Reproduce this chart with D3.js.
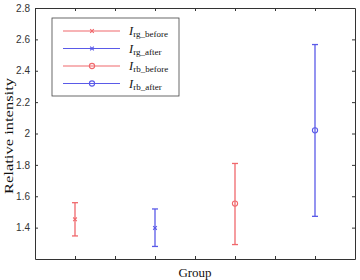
<!DOCTYPE html>
<html>
<head>
<meta charset="utf-8">
<script src="https://cdn.jsdelivr.net/npm/d3@7"></script>
<style>
body { margin: 0; background: #fff; }
svg text { font-family: "Liberation Serif", serif; }
</style>
</head>
<body>
<svg id="chart"></svg>
<script>
// data
var groups = [1, 3, 5, 7]
var means = [1.453, 1.398, 1.553, 2.020]
var upper = [1.559, 1.519, 1.809, 2.567]
var lower = [1.347, 1.280, 1.292, 1.472]
var seriesColors = ["#f0686c", "#5a5ae8", "#f0686c", "#5a5ae8"]
var seriesMarks = ["x", "x", "o", "o"]
var seriesNames = ["rg_before", "rg_after", "rb_before", "rb_after"]
var yTicks = [1.4, 1.6, 1.8, 2, 2.2, 2.4, 2.6, 2.8]
var xTicks = [1, 2, 3, 4, 5, 6, 7]

var margin = {top: 8, right: 5, bottom: 21, left: 35},
    width = 360 - margin.left - margin.right,
    height = 280 - margin.top - margin.bottom;

var svg = d3.select("#chart")
    .attr("width", 360)
    .attr("height", 280)
  .append("g")
    .attr("transform", "translate(" + margin.left + "," + margin.top + ")");

var x = d3.scaleLinear().domain([0, 8]).range([0, width]);
var y = d3.scaleLinear().domain([1.2, 2.8]).range([height, 0]);

// axes with inward ticks, mirrored on top/right
function styleAxis(g) {
  g.select(".domain").attr("stroke", "#333").attr("stroke-width", 1);
  g.selectAll(".tick line").attr("stroke", "#333");
  g.selectAll(".tick text").attr("fill", "#333").style("font-family", "Liberation Sans, Arial, sans-serif").attr("font-size", 10);
}
svg.append("g")
  .attr("transform", "translate(0," + height + ")")
  .call(d3.axisBottom(x).tickValues(xTicks).tickSize(-3).tickSizeOuter(0).tickFormat(""))
  .call(styleAxis);
svg.append("g")
  .call(d3.axisTop(x).tickValues(xTicks).tickSize(-3).tickSizeOuter(0).tickFormat(""))
  .call(styleAxis);
svg.append("g")
  .call(d3.axisLeft(y).tickValues(yTicks).tickSize(-3).tickSizeOuter(0).tickPadding(5).tickFormat(d3.format("")))
  .call(styleAxis);
svg.append("g")
  .attr("transform", "translate(" + width + ",0)")
  .call(d3.axisRight(y).tickValues(yTicks).tickSize(-3).tickSizeOuter(0).tickFormat(""))
  .call(styleAxis);

// error bars
var capW = 3;
var bars = svg.selectAll(".eb")
  .data(groups.map(function(g, i) { return {g: g, m: means[i], hi: upper[i], lo: lower[i], c: seriesColors[i], mk: seriesMarks[i]}; }))
  .enter().append("g").attr("class", "eb");
bars.append("line")
  .attr("x1", function(d) { return x(d.g); }).attr("x2", function(d) { return x(d.g); })
  .attr("y1", function(d) { return y(d.hi); }).attr("y2", function(d) { return y(d.lo); })
  .attr("stroke", function(d) { return d.c; }).attr("stroke-width", 1.3);
bars.append("line")
  .attr("x1", function(d) { return x(d.g) - capW; }).attr("x2", function(d) { return x(d.g) + capW; })
  .attr("y1", function(d) { return y(d.hi); }).attr("y2", function(d) { return y(d.hi); })
  .attr("stroke", function(d) { return d.c; }).attr("stroke-width", 1.3);
bars.append("line")
  .attr("x1", function(d) { return x(d.g) - capW; }).attr("x2", function(d) { return x(d.g) + capW; })
  .attr("y1", function(d) { return y(d.lo); }).attr("y2", function(d) { return y(d.lo); })
  .attr("stroke", function(d) { return d.c; }).attr("stroke-width", 1.3);

function drawMarker(sel, mk, cx, cy, c) {
  if (mk == "o") {
    sel.append("circle").attr("cx", cx).attr("cy", cy).attr("r", 2.6)
      .attr("fill", "none").attr("stroke", c).attr("stroke-width", 1.1);
  } else {
    sel.append("path")
      .attr("d", "M" + (cx - 1.8) + "," + (cy - 1.8) + "L" + (cx + 1.8) + "," + (cy + 1.8) +
                 "M" + (cx - 1.8) + "," + (cy + 1.8) + "L" + (cx + 1.8) + "," + (cy - 1.8))
      .attr("stroke", c).attr("stroke-width", 1.2);
  }
}
bars.each(function(d) { drawMarker(d3.select(this), d.mk, x(d.g), y(d.m), d.c); });

// legend
var legend = svg.append("g").attr("transform", "translate(" + (52 - margin.left) + "," + (18 - margin.top) + ")");
legend.append("rect").attr("x", 0).attr("y", 0).attr("width", 127).attr("height", 78)
  .attr("fill", "#fff").attr("stroke", "#444").attr("stroke-width", 0.8);
seriesNames.forEach(function(name, i) {
  var ly = 13 + i * 17.5;
  legend.append("line").attr("x1", 11).attr("x2", 68).attr("y1", ly).attr("y2", ly)
    .attr("stroke", seriesColors[i]).attr("stroke-width", 1.1);
  drawMarker(legend, seriesMarks[i], 40, ly, seriesColors[i]);
  var t = legend.append("text").attr("x", 77).attr("y", ly + 4).attr("fill", "#111").attr("font-size", 12.5);
  t.append("tspan").attr("font-style", "italic").text("I");
  t.append("tspan").attr("font-size", 9).attr("dy", 2).text(name);
});

// titles
svg.append("text")
  .attr("x", width / 2).attr("y", height + 18)
  .attr("text-anchor", "middle").attr("font-size", 13).attr("fill", "#111")
  .text("Group");
svg.append("text")
  .attr("transform", "translate(" + (-22) + "," + (136 - margin.top) + ") rotate(-90)")
  .attr("text-anchor", "middle").attr("font-size", 13).attr("fill", "#111")
  .attr("textLength", 116).attr("lengthAdjust", "spacingAndGlyphs")
  .text("Relative intensity");
</script>
</body>
</html>
